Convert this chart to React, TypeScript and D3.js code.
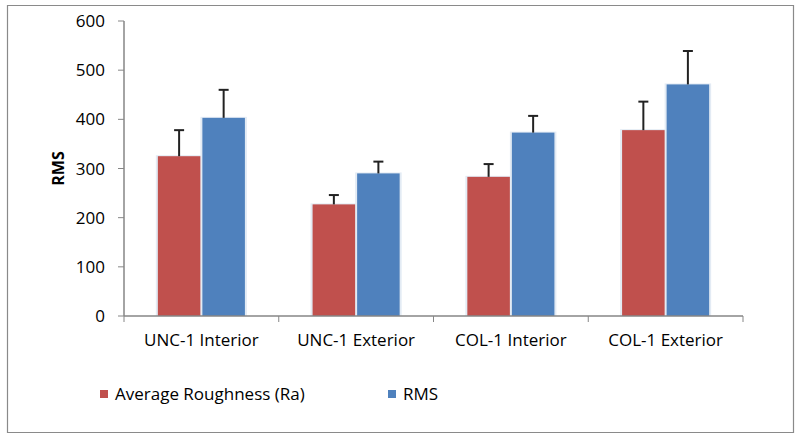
import React from "react";
import * as d3 from "d3";

const categories = ["UNC-1 Interior", "UNC-1 Exterior", "COL-1 Interior", "COL-1 Exterior"];
const seriesNames = ["Average Roughness (Ra)", "RMS"];
const raValues = [325, 227, 283, 378];
const raErrors = [53, 19, 26, 58];
const rmsValues = [403, 290, 373, 471];
const rmsErrors = [57, 24, 34, 68];
const yTicks = [0, 100, 200, 300, 400, 500, 600];
const colors = ["#C0504D", "#4F81BD"];

const W = 800;
const H = 439;
const plot = { left: 124, right: 743, top: 21, bottom: 316 };
const font = "'Open Sans', 'Liberation Sans', sans-serif";

export default function App() {
  const x = d3.scaleBand<string>().domain(categories).range([plot.left, plot.right]).paddingInner(0).paddingOuter(0);
  const inner = d3
    .scaleBand<string>()
    .domain(seriesNames)
    .range([0, x.bandwidth()])
    .paddingInner(0.045)
    .paddingOuter(0.76);
  const y = d3.scaleLinear().domain([0, 600]).range([plot.bottom, plot.top]);

  const series = [
    { name: seriesNames[0], values: raValues, errors: raErrors, color: colors[0] },
    { name: seriesNames[1], values: rmsValues, errors: rmsErrors, color: colors[1] },
  ];

  const bw = inner.bandwidth();

  return (
    <div style={{ position: "absolute", left: 0, top: 0 }}>
      <svg width={W} height={H} style={{ display: "block", background: "#fff" }} fontFamily={font}>
        <path d="M7.5,5.5H793.5V432.5H7.5Z" fill="none" stroke="#8a8a8a" strokeWidth={1.2} />
        {/* y axis ticks and labels */}
        {yTicks.map((t) => (
          <g key={t}>
            <line x1={plot.left - 6} x2={plot.left} y1={y(t)} y2={y(t)} stroke="#868686" />
            <text x={105} y={y(t)} dy="0.36em" textAnchor="end" fontSize={17} fill="#000">
              {t}
            </text>
          </g>
        ))}
        {/* bar halos */}
        {categories.map((c, i) =>
          series.map((s) => {
            const bx = (x(c) as number) + (inner(s.name) as number);
            return (
              <rect
                key={"h" + c + s.name}
                x={bx - 2}
                y={y(s.values[i]) - 1}
                width={bw + 4}
                height={plot.bottom - y(s.values[i]) + 1}
                fill="#e3ebf4"
              />
            );
          })
        )}
        {/* bars */}
        {categories.map((c, i) =>
          series.map((s) => {
            const bx = (x(c) as number) + (inner(s.name) as number);
            return (
              <rect
                key={"b" + c + s.name}
                x={bx}
                y={y(s.values[i])}
                width={bw}
                height={plot.bottom - y(s.values[i])}
                fill={s.color}
              />
            );
          })
        )}
        {/* error bars */}
        {categories.map((c, i) =>
          series.map((s) => {
            const cx = (x(c) as number) + (inner(s.name) as number) + bw / 2;
            const top = y(s.values[i] + s.errors[i]);
            return (
              <g key={"e" + c + s.name} stroke="#222" strokeWidth={2}>
                <line x1={cx} x2={cx} y1={y(s.values[i])} y2={top} />
                <line x1={cx - 5} x2={cx + 5} y1={top} y2={top} />
              </g>
            );
          })
        )}
        {/* axes */}
        <line x1={plot.left} x2={plot.left} y1={plot.top} y2={plot.bottom} stroke="#868686" strokeWidth={1.5} />
        <line x1={plot.left} x2={plot.right} y1={plot.bottom} y2={plot.bottom} stroke="#868686" strokeWidth={1.5} />
        {categories.map((c) => (
          <line key={"t" + c} x1={x(c)} x2={x(c)} y1={plot.bottom} y2={plot.bottom + 6} stroke="#868686" />
        ))}
        <line x1={plot.right} x2={plot.right} y1={plot.bottom} y2={plot.bottom + 6} stroke="#868686" />
        {categories.map((c) => (
          <text
            key={"l" + c}
            x={(x(c) as number) + x.bandwidth() / 2}
            y={340}
            dy="0.36em"
            textAnchor="middle"
            fontSize={17}
            fill="#000"
          >
            {c}
          </text>
        ))}
        {/* y title */}
        <text
          transform={`translate(64,${(plot.top + plot.bottom) / 2}) rotate(-90)`}
          textAnchor="middle"
          fontSize={16}
          fontWeight="bold"
          fill="#000"
        >
          RMS
        </text>
        {/* legend */}
        {series.map((s, i) => {
          const lx = i === 0 ? 100 : 388;
          return (
            <g key={"lg" + s.name}>
              <rect x={lx} y={390} width={8} height={8} fill={s.color} />
              <text x={lx + 15} y={394} dy="0.36em" fontSize={17} fill="#000">
                {s.name}
              </text>
            </g>
          );
        })}
      </svg>
    </div>
  );
}
